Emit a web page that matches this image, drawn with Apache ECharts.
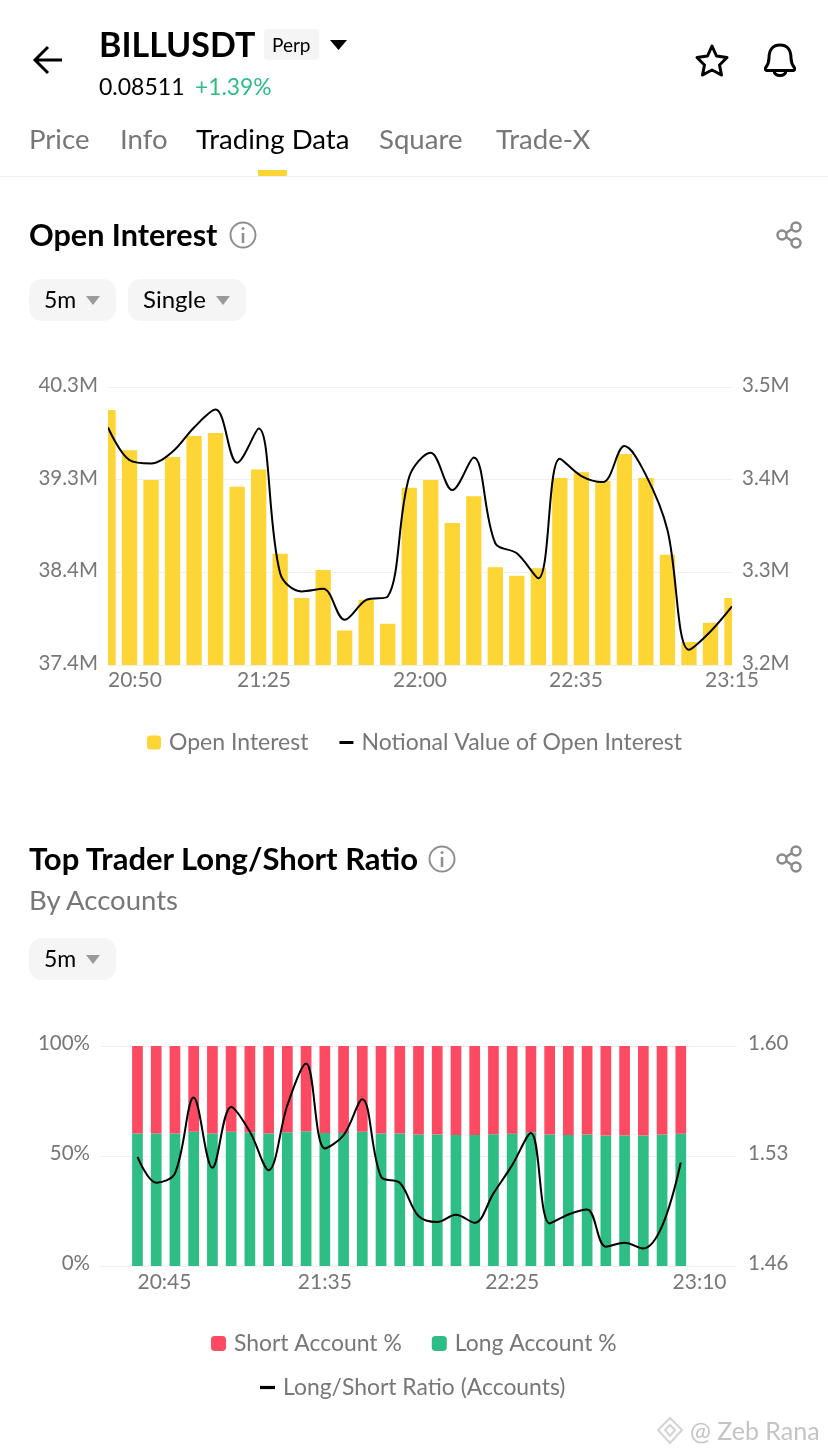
<!DOCTYPE html>
<html><head><meta charset="utf-8">
<style>
html,body{margin:0;padding:0;background:#fff;width:828px;height:1455px;overflow:hidden;font-family:Lato,sans-serif}
#c{position:absolute;left:0;top:0;width:828px;height:1455px}
.t{position:absolute;white-space:nowrap;transform:translateY(-50%);line-height:1}
.g{color:#777}
.k{color:#000}
.chip{position:absolute;background:#f5f5f5;border-radius:13px}
.mask{position:absolute;background:#fff;top:386px;height:279px}
svg{position:absolute;overflow:visible}
</style>
</head><body>
<div id="c"></div>
<div class="mask" style="left:99px;width:9px"></div>
<div class="mask" style="left:732px;width:9px"></div>
<div class="t k" style="left:99px;top:44px;font-size:34px;font-weight:700">BILLUSDT</div>
<div class="chip" style="left:264px;top:29px;width:55px;height:31px;border-radius:4px"></div>
<div class="t k" style="left:272px;top:44px;font-size:19px">Perp</div>
<div class="t k" style="left:99px;top:86px;font-size:23px">0.08511</div>
<div class="t" style="left:195px;top:86px;font-size:22.800px;color:#2EBD85">+1.39%</div>
<div class="t g" style="left:29px;top:139px;font-size:27.600px">Price</div>
<div class="t g" style="left:120px;top:139px;font-size:27.600px">Info</div>
<div class="t k" style="left:196px;top:139px;font-size:27.600px">Trading Data</div>
<div class="t g" style="left:379px;top:139px;font-size:27.600px">Square</div>
<div class="t g" style="left:496px;top:139px;font-size:27.600px">Trade-X</div>
<div style="position:absolute;left:0;top:176px;width:828px;height:1px;background:#f0f0f0"></div>
<div style="position:absolute;left:258px;top:170px;width:29px;height:6px;background:#FCD535"></div>
<div class="t k" style="left:29px;top:235px;font-size:30.600px;font-weight:700">Open Interest</div>
<div class="chip" style="left:29px;top:279px;width:87px;height:42px"></div>
<div class="chip" style="left:128px;top:279px;width:118px;height:42px"></div>
<div class="t k" style="left:44px;top:299px;font-size:23px">5m</div>
<div class="t k" style="left:143px;top:299px;font-size:24px">Single</div>
<div class="t k" style="left:29px;top:858px;font-size:31px;font-weight:700">Top Trader Long/Short Ratio</div>
<div class="t g" style="left:29px;top:900px;font-size:27.500px">By Accounts</div>
<div class="chip" style="left:29px;top:938px;width:87px;height:42px"></div>
<div class="t k" style="left:44px;top:958px;font-size:23px">5m</div>
<div class="t" style="left:690px;top:1430px;font-size:25px;color:#c4c4c4">@ Zeb Rana</div>
<svg width="828" height="1455" style="left:0;top:0;pointer-events:none" fill="none">
<path d="M62 60H35M48 47L35 60L48 73" stroke="#000" stroke-width="3"/>
<path d="M330 40H347L338.500 50Z" fill="#000"/>
<path d="M712 46L716.500 56L727 57.500L719.500 65L721.500 75L712 70L702.500 75L704.500 65L697 57.500L707.500 56Z" stroke="#000" stroke-width="3" stroke-linejoin="round"/>
<path d="M780 45C772 45 769 51 769 58C769 63 767 66 765.500 68C765 70 766 70.500 768 70.500H792C794 70.500 795 70 794.500 68C793 66 791 63 791 58C791 51 788 45 780 45ZM774 71C775 77 785 77 786 71" stroke="#000" stroke-width="3"/>
<path d="M86 296H100L93 305Z M216 296H230L223 305Z M86 955H100L93 964Z" fill="#9a9a9a"/>
<g stroke="#8f8f8f" stroke-width="2"><circle cx="243" cy="235" r="12.500"/><circle cx="442" cy="859" r="12.500"/></g>
<g stroke="#8f8f8f" stroke-width="2.500"><path d="M243 233V243M442 857V867"/></g>
<g fill="#8f8f8f"><circle cx="243" cy="228.500" r="1.500"/><circle cx="442" cy="852.500" r="1.500"/></g>
<g stroke="#8a8a8a" stroke-width="2.500">
<circle cx="782" cy="235" r="4.500"/><circle cx="796" cy="227" r="4.500"/><circle cx="796" cy="243" r="4.500"/><path d="M786 233L792 229M786 237L792 241"/>
<circle cx="782" cy="859" r="4.500"/><circle cx="796" cy="851" r="4.500"/><circle cx="796" cy="867" r="4.500"/><path d="M786 857L792 853M786 861L792 865"/>
</g>
<path d="M670 1418L682 1430L670 1443L658 1430Z M670 1425L675 1430L670 1436L665 1430Z" stroke="#d4d4d4" stroke-width="2"/>
</svg>
<script src="https://cdn.jsdelivr.net/npm/echarts@6/dist/echarts.min.js"></script>
<script>
const oiTimes = ['20:50','20:55','21:00','21:05','21:10','21:15','21:20','21:25','21:30','21:35','21:40','21:45','21:50','21:55','22:00','22:05','22:10','22:15','22:20','22:25','22:30','22:35','22:40','22:45','22:50','22:55','23:00','23:05','23:10','23:15'];
const oiValues = [40.06,39.64,39.33,39.57,39.79,39.82,39.26,39.44,38.56,38.10,38.39,37.76,38.08,37.83,39.25,39.33,38.88,39.16,38.42,38.33,38.41,39.35,39.41,39.32,39.60,39.35,38.55,37.64,37.84,38.10];
const notional = [3.4563,3.4211,3.4175,3.4301,3.4563,3.4756,3.4182,3.4552,3.2991,3.2793,3.2822,3.2488,3.2703,3.2739,3.4031,3.4290,3.3888,3.4240,3.3314,3.3206,3.2937,3.4225,3.4039,3.3974,3.4362,3.4049,3.3457,3.2165,3.2362,3.2632];
const oiTickLabels = ['20:50','21:25','22:00','22:35','23:15'];
const oiLeftTicks = [37.4,38.367,39.333,40.3];

const lsTimes = ['20:45','20:50','20:55','21:00','21:05','21:10','21:15','21:20','21:25','21:30','21:35','21:40','21:45','21:50','21:55','22:00','22:05','22:10','22:15','22:20','22:25','22:30','22:35','22:40','22:45','22:50','22:55','23:00','23:05','23:10'];
const longPct = [60.2,60.2,60.2,61.0,60.2,61.0,60.7,60.2,60.8,61.3,60.4,60.5,61.0,60.2,60.2,59.8,59.8,59.6,59.6,59.9,60.1,60.7,59.8,59.6,59.8,59.3,59.3,59.3,59.8,60.1];
const ratio = [1.5295,1.5130,1.5189,1.5672,1.5225,1.5612,1.5454,1.5210,1.5623,1.5888,1.5348,1.5432,1.5661,1.5168,1.5130,1.4918,1.4880,1.4926,1.4875,1.5062,1.5242,1.5447,1.4871,1.4928,1.4960,1.4723,1.4748,1.4712,1.4854,1.5259];
const lsTickLabels = ['20:45','21:35','22:25','23:10'];
const lsTickSlots = [2,12,22,32];
const lsRightTicks = [1.46,1.53,1.60];

const shortPct = longPct.map(v => +(100 - v).toFixed(1));
const PAD_L = 2, PAD_R = 3;
const pad = a => [...Array(PAD_L).fill(null), ...a, ...Array(PAD_R).fill(null)];
const lsCats = pad(lsTimes).map((v,i) => v === null ? 'slot' + i : v);

const F = 'Lato, sans-serif', GC = '#777777';
const ylab1 = {color: GC, fontSize: 20.5, fontFamily: F, verticalAlign: 'bottom', lineHeight: 3};
const ylab2 = {color: GC, fontSize: 20.5, fontFamily: F, verticalAlign: 'bottom', lineHeight: 5};
const xlab = {color: GC, fontSize: 21, fontFamily: F};
const split = {show: true, lineStyle: {color: '#f0f0f0', width: 1}};
const legendText = {color: GC, fontSize: 23, fontFamily: F, padding: [0,0,0,3]};
const legendText2 = {color: GC, fontSize: 22.9, fontFamily: F, padding: [0,0,0,3]};
const SMOOTH = 0.35;

const chart = echarts.init(document.getElementById('c'), null, {renderer: 'canvas'});
chart.setOption({
  animation: false,
  grid: [
    {left: 108, width: 624, top: 387, height: 278},
    {left: 100, width: 637, top: 1046, height: 220}
  ],
  legend: [
    {left: 147, top: 731, padding: 0, itemGap: 31, itemWidth: 14, itemHeight: 14, textStyle: legendText,
     data: [{name: 'Open Interest', icon: 'roundRect'}, {name: 'Notional Value of Open Interest', icon: 'path://M0 0H14V3H0Z', itemStyle:{color:'#000'}}]},
    {left: 211, top: 1332, padding: 0, itemGap: 30, itemWidth: 15, itemHeight: 15, textStyle: legendText2,
     data: [{name: 'Short Account %', icon: 'roundRect'}, {name: 'Long Account %', icon: 'roundRect'}]},
    {left: 260, top: 1376, padding: 0, itemWidth: 15, itemHeight: 15, textStyle: legendText2,
     data: [{name: 'Long/Short Ratio (Accounts)', icon: 'path://M0 0H14V3H0Z', itemStyle:{color:'#000'}}]}
  ],
  xAxis: [
    {type: 'category', gridIndex: 0, data: oiTimes, boundaryGap: false,
     axisLine: {show: false}, axisTick: {show: false}, axisLabel: {show: false}, splitLine: {show: false}},
    {type: 'value', gridIndex: 0, position: 'bottom', min: 0, max: 29, interval: 7.25,
     axisLine: {show: false}, axisTick: {show: false}, splitLine: {show: false},
     axisLabel: {...xlab, margin: 5, alignMinLabel: 'left', showMinLabel: true, showMaxLabel: true, hideOverlap: false,
       formatter: v => oiTickLabels[Math.round(v / 7.25)]}},
    {type: 'category', gridIndex: 1, data: lsCats, boundaryGap: false,
     axisLine: {show: false}, axisTick: {show: false}, axisLabel: {show: false}, splitLine: {show: false}},
    {type: 'value', gridIndex: 1, position: 'bottom', min: 0, max: 34,
     axisLine: {show: false}, axisTick: {show: false}, splitLine: {show: false},
     axisLabel: {...xlab, margin: 6, customValues: lsTickSlots, alignMinLabel: 'left',
       formatter: v => lsTickLabels[lsTickSlots.indexOf(v)]}}
  ],
  yAxis: [
    {type: 'value', gridIndex: 0, position: 'left', min: 37.4, max: 40.3,
     axisLine: {show: false}, axisTick: {show: false, customValues: oiLeftTicks}, splitLine: {show: false},
     axisLabel: {...ylab1, margin: 10, customValues: oiLeftTicks, formatter: v => v.toFixed(1) + 'M'}},
    {type: 'value', gridIndex: 0, position: 'right', min: 3.2, max: 3.5, interval: 0.1,
     axisLine: {show: false}, axisTick: {show: false}, splitLine: split,
     axisLabel: {...ylab1, margin: 10, formatter: v => v.toFixed(1) + 'M'}},
    {type: 'value', gridIndex: 1, position: 'left', min: 0, max: 100, interval: 50,
     axisLine: {show: false}, axisTick: {show: false}, splitLine: split,
     axisLabel: {...ylab2, margin: 10, formatter: '{value}%'}},
    {type: 'value', gridIndex: 1, position: 'right', min: 1.46, max: 1.60,
     axisLine: {show: false}, axisTick: {show: false, customValues: lsRightTicks}, splitLine: {show: false},
     axisLabel: {...ylab2, margin: 11, customValues: lsRightTicks, formatter: v => v.toFixed(2)}}
  ],
  series: [
    {name: 'Open Interest', type: 'bar', xAxisIndex: 0, yAxisIndex: 0, data: oiValues, barWidth: 15.3,
     itemStyle: {color: '#FDD535'}},
    {name: 'Notional Value of Open Interest', type: 'line', xAxisIndex: 0, yAxisIndex: 1, data: notional,
     smooth: SMOOTH, showSymbol: false, symbol: 'none', itemStyle: {color: '#000'}, lineStyle: {color: '#000', width: 2}, z: 5},
    {name: 'Long Account %', type: 'bar', stack: 'ls', xAxisIndex: 2, yAxisIndex: 2, data: pad(longPct), barWidth: 10.7,
     itemStyle: {color: '#2EBD85'}},
    {name: 'Short Account %', type: 'bar', stack: 'ls', xAxisIndex: 2, yAxisIndex: 2, data: pad(shortPct), barWidth: 10.7,
     itemStyle: {color: '#FB4A62'}},
    {name: 'Long/Short Ratio (Accounts)', type: 'line', xAxisIndex: 2, yAxisIndex: 3, data: pad(ratio),
     smooth: SMOOTH, showSymbol: false, symbol: 'none', itemStyle: {color: '#000'}, lineStyle: {color: '#000', width: 2}, z: 5}
  ]
});
</script>
</body></html>
